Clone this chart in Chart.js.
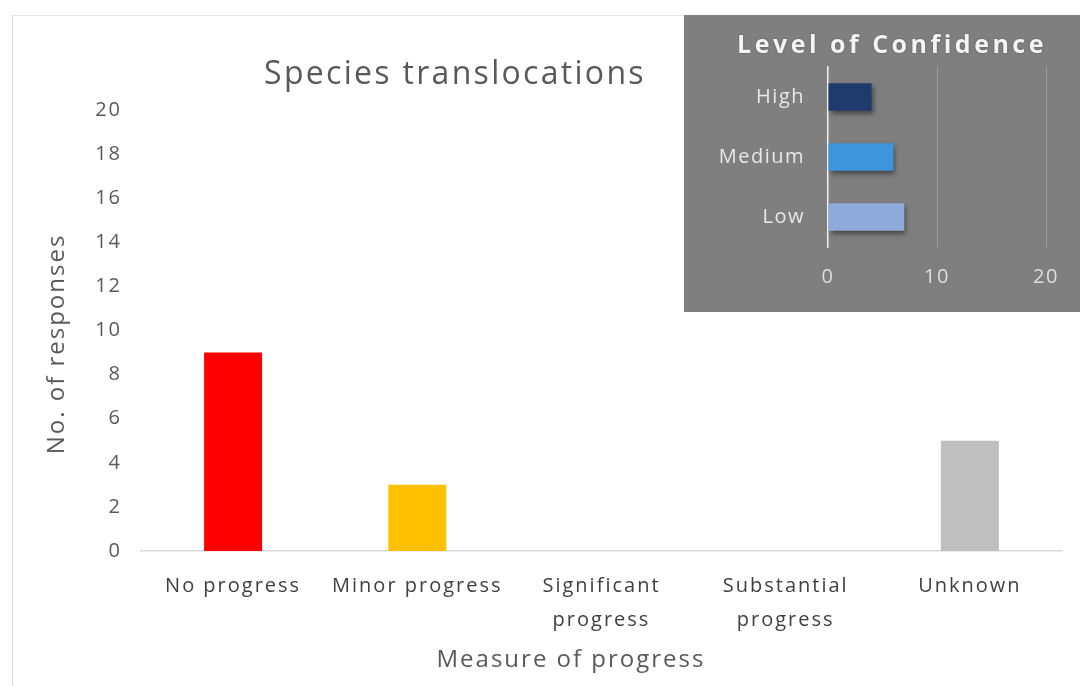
<!DOCTYPE html>
<html>
<head>
<meta charset="utf-8">
<script src="https://cdn.jsdelivr.net/npm/chart.js@4"></script>
<style>
  html, body { margin: 0; padding: 0; background: #fff; }
  #wrap { position: relative; width: 1080px; height: 686px; overflow: hidden; font-family: "Open Sans", sans-serif; }
  #frame { position: absolute; left: 12px; top: 15px; right: -2px; bottom: -2px; border-left: 1.5px solid #d9d9d9; border-top: 1.5px solid #e6e6e6; }
  #mainTitle { position: absolute; left: 0; top: 52px; width: 910px; text-align: center; font-size: 32px; line-height: 40px; letter-spacing: 2.3px; color: #595959; }
  #xTitle { position: absolute; left: 0; top: 642px; width: 1142px; text-align: center; font-size: 24px; line-height: 32px; letter-spacing: 2px; color: #595959; }
  #yTitle { position: absolute; left: -145px; top: 328px; width: 400px; text-align: center; font-size: 24px; line-height: 32px; letter-spacing: 2px; color: #595959; transform: rotate(-90deg); }
  #inset { position: absolute; left: 684px; top: 15px; width: 396px; height: 297px; background: #7f7f7f; }
  #insetTitle { position: absolute; left: 0; top: 12px; width: 416px; text-align: center; font-size: 25px; font-weight: bold; line-height: 32px; letter-spacing: 3.5px; color: #f4f4f4; text-shadow: 0 0 2px rgba(0,0,0,0.35); }
  #mainBox { position: absolute; left: 0; top: 0; width: 1080px; height: 686px; }
  #insetBox { position: absolute; left: 0; top: 0; width: 396px; height: 297px; }
</style>
</head>
<body>
<div id="wrap">
  <div id="frame"></div>
  <div id="mainBox"><canvas id="mainChart"></canvas></div>
  <div id="mainTitle">Species translocations</div>
  <div id="yTitle">No. of responses</div>
  <div id="xTitle">Measure of progress</div>
  <div id="inset">
    <div id="insetBox"><canvas id="confChart"></canvas></div>
    <div id="insetTitle">Level of Confidence</div>
  </div>
</div>
<script>
// main chart data
const categories = ['No progress', 'Minor progress', ['Significant', 'progress'], ['Substantial', 'progress'], 'Unknown'];
const responses = [9, 3, 0, 0, 5];
const barColors = ['#ff0000', '#ffc000', '#a5a5a5', '#5b9bd5', '#bfbfbf'];
const yMax = 20;
const yStep = 2;

// inset data
const levels = ['High', 'Medium', 'Low'];
const levelCounts = [4, 6, 7];
const levelColors = ['#1f3b6e', '#3d95dc', '#8eaadb'];
const xMaxInset = 20;
const xStepInset = 10;

// canvas letter spacing, re-applied since a resize resets the context
const spacing = (px) => ({
  id: 'spacing',
  beforeUpdate(chart) { chart.ctx.letterSpacing = px; },
  beforeDraw(chart) { chart.ctx.letterSpacing = px; }
});

new Chart(document.getElementById('mainChart').getContext('2d'), {
  type: 'bar',
  data: {
    labels: categories,
    datasets: [{ data: responses, backgroundColor: barColors, borderWidth: 0,
                 categoryPercentage: 1, barPercentage: 0.315 }]
  },
  options: {
    responsive: true, maintainAspectRatio: false, animation: false,
    layout: { padding: { left: 38, right: 18, top: 110, bottom: 10 } },
    plugins: { legend: { display: false }, tooltip: { enabled: false } },
    scales: {
      x: {
        grid: { display: false, drawTicks: false },
        border: { color: '#d9d9d9', width: 1.5 },
        ticks: { color: '#404040', padding: 18, maxRotation: 0, autoSkip: false,
                 font: { family: 'Open Sans', size: 20, lineHeight: 1.7 } },
        afterFit(s) { s.height = 125; }
      },
      y: {
        min: 0, max: yMax,
        grid: { display: false, drawTicks: false },
        border: { display: false },
        ticks: { stepSize: yStep, color: '#595959', padding: 19,
                 font: { family: 'Open Sans', size: 20 } },
        afterFit(s) { s.width = 103; }
      }
    }
  },
  plugins: [spacing('2px')]
});

const barShadow = {
  id: 'barShadow',
  beforeDatasetsDraw(chart) {
    const c = chart.ctx;
    c.save();
    c.shadowColor = 'rgba(0,0,0,0.45)';
    c.shadowBlur = 5;
    c.shadowOffsetX = 2;
    c.shadowOffsetY = 3;
  },
  afterDatasetsDraw(chart) { chart.ctx.restore(); }
};

new Chart(document.getElementById('confChart').getContext('2d'), {
  type: 'bar',
  data: {
    labels: levels,
    datasets: [{ data: levelCounts, backgroundColor: levelColors, borderWidth: 0,
                 categoryPercentage: 1, barPercentage: 0.46 }]
  },
  options: {
    indexAxis: 'y',
    responsive: true, maintainAspectRatio: false, animation: false,
    layout: { padding: { left: 0, right: 34, top: 52, bottom: 0 } },
    plugins: { legend: { display: false }, tooltip: { enabled: false } },
    scales: {
      x: {
        min: 0, max: xMaxInset,
        grid: { drawTicks: false, lineWidth: 1,
                color: (ctx) => ctx.tick && ctx.tick.value === 0 ? 'rgba(0,0,0,0)' : 'rgba(255,255,255,0.22)' },
        border: { display: false },
        ticks: { stepSize: xStepInset, color: '#dedede', padding: 18,
                 font: { family: 'Open Sans', size: 20 } },
        afterFit(s) { s.height = 65; }
      },
      y: {
        grid: { display: false, drawTicks: false },
        border: { color: '#f2f2f2', width: 1.5 },
        ticks: { color: '#e8e8e8', padding: 23, font: { family: 'Open Sans', size: 20 } },
        afterFit(s) { s.width = 144; }
      }
    }
  },
  plugins: [spacing('1.5px'), barShadow]
});
</script>
</body>
</html>
